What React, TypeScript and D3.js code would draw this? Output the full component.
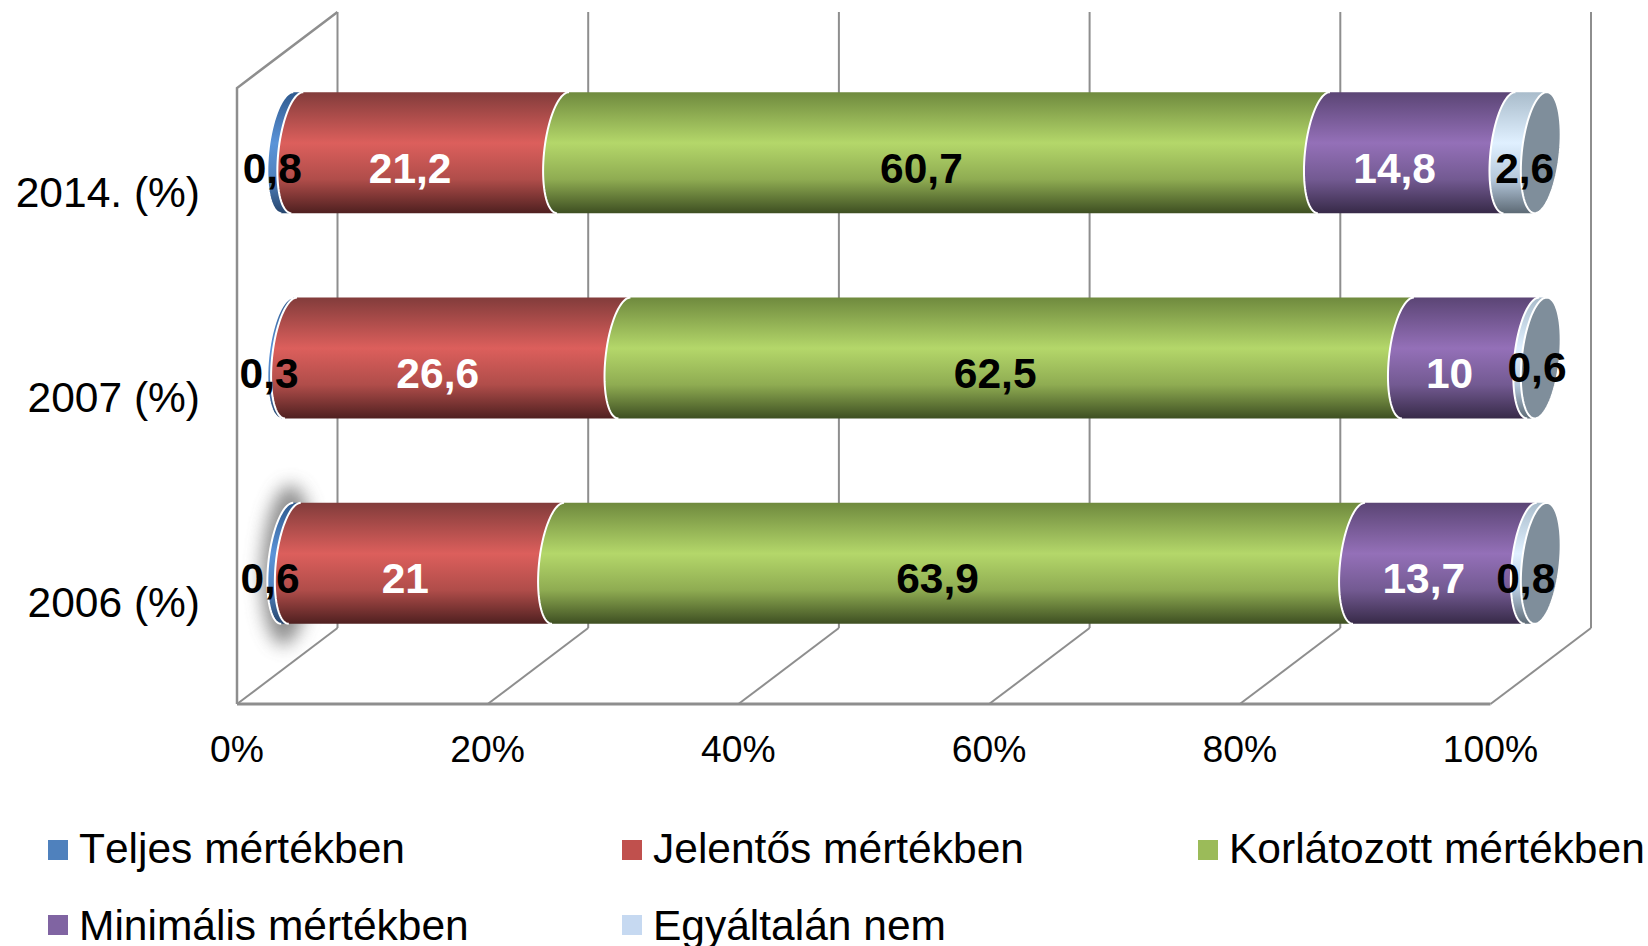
import React from "react";
import * as d3 from "d3";

const W = 1648, H = 946;
const years = ["2014. (%)", "2007 (%)", "2006 (%)"];
const seriesNames = ["Teljes mértékben", "Jelentős mértékben", "Korlátozott mértékben", "Minimális mértékben", "Egyáltalán nem"];
const teljes = [0.8, 0.3, 0.6];
const jelentos = [21.2, 26.6, 21];
const korlatozott = [60.7, 62.5, 63.9];
const minimalis = [14.8, 10, 13.7];
const egyaltalan = [2.6, 0.6, 0.8];
const seriesValues = [teljes, jelentos, korlatozott, minimalis, egyaltalan];
const labelTexts = [
  ["0,8", "21,2", "60,7", "14,8", "2,6"],
  ["0,3", "26,6", "62,5", "10", "0,6"],
  ["0,6", "21", "63,9", "13,7", "0,8"],
];
const ticks = [0, 20, 40, 60, 80, 100];

// styling / layout
const swatch = ["#4f81bd", "#c0504d", "#9bbb59", "#8064a2", "#c6d9f1"];
const labelFill = ["#000", "#fff", "#000", "#fff", "#000"];
const grads = [
  ["#2f5a8e", "#5b93d8", "#4f81bd", "#27466e"],
  ["#823c3b", "#dc5f5c", "#b04d4a", "#4f2020"],
  ["#6f8a3e", "#b4d76a", "#8fac52", "#3e4f22"],
  ["#5b4575", "#9470b8", "#735a92", "#372a48"],
  ["#a9bccb", "#e0f0ff", "#b5c8dc", "#5d6a75"],
];
const labelDx = [
  [-20, -20, -22, -22, -1],
  [-20, -20, -21, -21, 0],
  [-21, -21, -21, -21, -10],
];
const labelDy = [
  [30, 30, 30, 30, 30],
  [30, 30, 30, 30, 24],
  [30, 30, 30, 30, 30],
];
const FONT = "'Liberation Sans', Arial, sans-serif";
const GRID = "#8e8e8e";

const frontX = d3.scaleLinear().domain([0, 100]).range([237, 1490.5]);
const depthX = 100.5, depthY = 76;
const barX = (v: number) => frontX(v) + depthX / 2;
const bandY = d3.scaleBand<number>().domain([0, 1, 2]).range([12 + depthY / 2, 628 + depthY / 2]);
const BAR_H = 121;
const RX = 19, SKEW = 6;

const stackGen = d3.stack<number>()
  .keys(seriesValues.map((_, i) => String(i)))
  .value((row, key) => seriesValues[+key][row]);
const stacked = stackGen([0, 1, 2]);

const curve = d3.line<[number, number]>().curve(d3.curveLinear);
// points of the left half of the tilted end ellipse, top to bottom
function leftArc(cx: number, cy: number, ry: number) {
  return d3.range(0, 41).map((i) => {
    const t = -Math.PI / 2 - (i / 40) * Math.PI;
    return [cx + RX * Math.cos(t) - SKEW * Math.sin(t), cy + ry * Math.sin(t)] as [number, number];
  });
}
function fullEllipse(cx: number, cy: number, ry: number) {
  return d3.range(0, 81).map((i) => {
    const t = (i / 80) * Math.PI * 2;
    return [cx + RX * Math.cos(t) - SKEW * Math.sin(t), cy + ry * Math.sin(t)] as [number, number];
  });
}

export default function App() {
  const ry = BAR_H / 2;
  return (
    <svg width={W} height={H} viewBox={`0 0 ${W} ${H}`} style={{ position: "absolute", left: 0, top: 0, background: "#fff" }} fontFamily={FONT}>
      <defs>
        {grads.map((g, i) => (
          <linearGradient key={i} id={`g${i}`} x1="0" x2="0" y1="0" y2="1">
            <stop offset="0" stopColor={g[0]} />
            <stop offset="0.42" stopColor={g[1]} />
            <stop offset="0.72" stopColor={g[2]} />
            <stop offset="1" stopColor={g[3]} />
          </linearGradient>
        ))}
        <filter id="soft" x="-200%" y="-40%" width="500%" height="180%">
          <feGaussianBlur stdDeviation="9" />
        </filter>
      </defs>

      {/* walls and floor */}
      <g fill="none" stroke={GRID} strokeWidth={2}>
        {ticks.map((t) => (
          <g key={t}>
            <line x1={frontX(t) + depthX} x2={frontX(t) + depthX} y1={12} y2={628} />
            <line x1={frontX(t)} x2={frontX(t) + depthX} y1={704} y2={628} />
          </g>
        ))}
        <path d={`M${frontX(0)},704V88L${frontX(0) + depthX},12`} strokeWidth={2.5} />
        <line x1={frontX(0)} x2={frontX(100)} y1={704} y2={704} strokeWidth={3} />
      </g>

      {/* shadow around the 2006 first segment */}
      <ellipse cx={287} cy={565} rx={25} ry={80} fill="#666" opacity={0.75} filter="url(#soft)" transform="rotate(3 287 565)" />

      {/* cylinders */}
      {[0, 1, 2].map((row) => {
        const cy = (bandY(row) as number) + bandY.bandwidth() / 2;
        return (
          <g key={row}>
            {stacked.map((layer, si) => {
              const [a, b] = layer[row];
              const left = leftArc(barX(a), cy, ry);
              const right = leftArc(barX(Math.min(b, 100)), cy, ry).reverse();
              const outline = curve([...left, ...right]) + "Z";
              return (
                <g key={si}>
                  <path d={outline} fill={`url(#g${si})`} />
                  <path d={curve(left) as string} fill="none" stroke="#fff" strokeWidth={2} />
                </g>
              );
            })}
            <path d={curve(fullEllipse(barX(100), cy, ry)) + "Z"} fill="#7f8e9b" stroke="#fff" strokeWidth={2} />
          </g>
        );
      })}

      {/* data labels */}
      {[0, 1, 2].map((row) => {
        const cy = (bandY(row) as number) + bandY.bandwidth() / 2;
        return stacked.map((layer, si) => {
          const [a, b] = layer[row];
          return (
            <text key={`${row}-${si}`} x={barX((a + b) / 2) + labelDx[row][si]} y={cy + labelDy[row][si]}
              textAnchor="middle" fontSize={42.5} fontWeight={700} fill={labelFill[si]}>
              {labelTexts[row][si]}
            </text>
          );
        });
      })}

      {/* category labels */}
      {years.map((y, row) => (
        <text key={y} x={200} y={(bandY(row) as number) + bandY.bandwidth() / 2 + 54} textAnchor="end" fontSize={42.5} fill="#000">{y}</text>
      ))}

      {/* value axis labels */}
      {ticks.map((t) => (
        <text key={t} x={frontX(t)} y={762} textAnchor="middle" fontSize={37.3} fill="#000">{t}%</text>
      ))}

      {/* legend */}
      {seriesNames.map((name, i) => {
        const col = i % 3, rowI = Math.floor(i / 3);
        const sx = [48, 622, 1198][col];
        const top = [840, 915][rowI];
        return (
          <g key={name}>
            <rect x={sx} y={top} width={20} height={20} fill={swatch[i]} />
            <text x={sx + 31} y={top + (rowI === 0 ? 23 : 25)} fontSize={42.5} fill="#000" style={{ fontKerning: "none" }}>{name}</text>
          </g>
        );
      })}
    </svg>
  );
}
